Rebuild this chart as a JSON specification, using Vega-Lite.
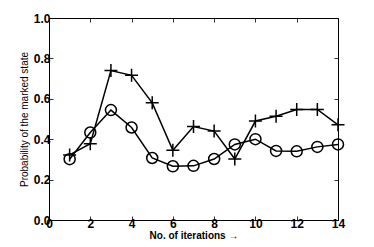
{
  "$schema": "https://vega.github.io/schema/vega-lite/v6.json",
  "width": 289,
  "height": 202,
  "autosize": "none",
  "padding": {"left": 49, "top": 18, "right": 36, "bottom": 27},
  "background": "white",
  "config": {
    "view": {"stroke": "black", "strokeWidth": 1},
    "font": "Liberation Sans",
    "axis": {
      "domain": false,
      "grid": false,
      "ticks": true,
      "tickSize": -4,
      "tickColor": "black",
      "tickWidth": 0.8,
      "labelFont": "Liberation Sans",
      "labelFontWeight": "bold",
      "labelFontSize": 12,
      "labelColor": "black",
      "titleColor": "black",
      "titleFont": "Liberation Sans"
    }
  },
  "data": {
    "values": [
      {"it": 1, "series": "plus", "p": 0.322},
      {"it": 2, "series": "plus", "p": 0.378},
      {"it": 3, "series": "plus", "p": 0.740},
      {"it": 4, "series": "plus", "p": 0.716},
      {"it": 5, "series": "plus", "p": 0.580},
      {"it": 6, "series": "plus", "p": 0.345},
      {"it": 7, "series": "plus", "p": 0.463},
      {"it": 8, "series": "plus", "p": 0.440},
      {"it": 9, "series": "plus", "p": 0.302},
      {"it": 10, "series": "plus", "p": 0.490},
      {"it": 11, "series": "plus", "p": 0.514},
      {"it": 12, "series": "plus", "p": 0.547},
      {"it": 13, "series": "plus", "p": 0.547},
      {"it": 14, "series": "plus", "p": 0.471},
      {"it": 1, "series": "circle", "p": 0.301},
      {"it": 2, "series": "circle", "p": 0.433},
      {"it": 3, "series": "circle", "p": 0.544},
      {"it": 4, "series": "circle", "p": 0.458},
      {"it": 5, "series": "circle", "p": 0.307},
      {"it": 6, "series": "circle", "p": 0.266},
      {"it": 7, "series": "circle", "p": 0.268},
      {"it": 8, "series": "circle", "p": 0.302},
      {"it": 9, "series": "circle", "p": 0.374},
      {"it": 10, "series": "circle", "p": 0.400},
      {"it": 11, "series": "circle", "p": 0.342},
      {"it": 12, "series": "circle", "p": 0.340},
      {"it": 13, "series": "circle", "p": 0.362},
      {"it": 14, "series": "circle", "p": 0.374}
    ]
  },
  "encoding": {
    "x": {"field": "it", "type": "quantitative", "scale": {"domain": [0, 14], "nice": false, "zero": false}},
    "y": {"field": "p", "type": "quantitative", "scale": {"domain": [0, 1], "nice": false}}
  },
  "layer": [
    {
      "mark": {"type": "line", "color": "black", "strokeWidth": 1.5},
      "encoding": {
        "detail": {"field": "series"},
        "x": {"field": "it", "type": "quantitative",
          "axis": {"orient": "bottom", "values": [0, 2, 4, 6, 8, 10, 12, 14], "title": "No. of iterations \u2192", "titleFontSize": 10, "titleFontWeight": "bold", "titlePadding": 1, "labelPadding": 2, "labelFlush": false}},
        "y": {"field": "p", "type": "quantitative",
          "axis": {"orient": "left", "values": [0, 0.2, 0.4, 0.6, 0.8, 1.0], "format": ".1f", "title": "Probability of the marked state", "titleFontSize": 10, "titleFontWeight": "normal", "titlePadding": 4, "labelPadding": 3, "labelFlush": false}}
      }
    },
    {
      "transform": [{"filter": "datum.series == 'plus'"}],
      "mark": {"type": "point", "shape": "M-1,0L1,0M0,-1L0,1", "filled": false, "color": "black", "strokeWidth": 1.5, "size": 169, "opacity": 1},
      "encoding": {
        "x": {"field": "it", "type": "quantitative",
          "axis": {"orient": "top", "values": [0, 2, 4, 6, 8, 10, 12, 14], "labels": false, "title": null}},
        "y": {"field": "p", "type": "quantitative",
          "axis": {"orient": "right", "values": [0, 0.2, 0.4, 0.6, 0.8, 1.0], "labels": false, "title": null}}
      }
    },
    {
      "transform": [{"filter": "datum.series == 'circle'"}],
      "mark": {"type": "point", "shape": "circle", "filled": false, "color": "black", "strokeWidth": 1.5, "size": 121, "opacity": 1},
      "encoding": {
        "x": {"field": "it", "type": "quantitative", "axis": null},
        "y": {"field": "p", "type": "quantitative", "axis": null}
      }
    }
  ],
  "resolve": {"axis": {"x": "independent", "y": "independent"}}
}
